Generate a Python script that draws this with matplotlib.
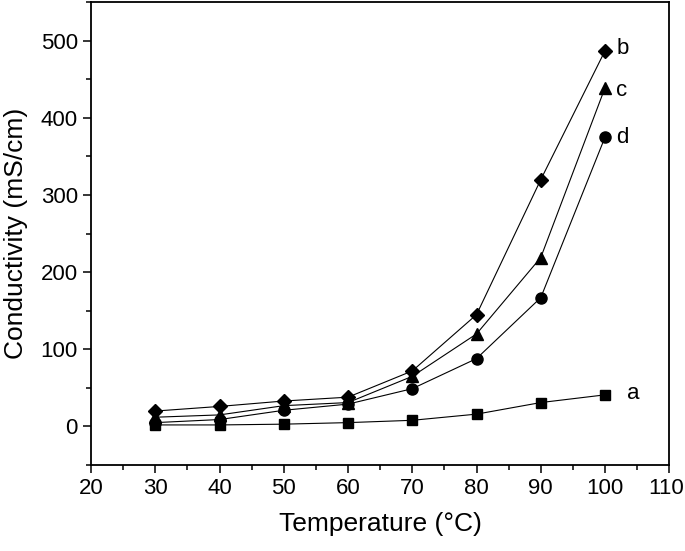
import matplotlib
matplotlib.use("Agg")
import matplotlib.pyplot as plt
import matplotlib.transforms as mtransforms
from matplotlib.ticker import MultipleLocator

plt.rcParams["font.family"] = ["Liberation Sans", "DejaVu Sans"]

temperature = [30, 40, 50, 60, 70, 80, 90, 100]
cond_a = [2, 2, 3, 5, 8, 16, 31, 41]
cond_b = [20, 26, 33, 38, 72, 145, 320, 487]
cond_c = [12, 15, 27, 31, 65, 120, 219, 439]
cond_d = [5, 9, 21, 29, 49, 88, 167, 375]

series = [
    ("a", cond_a, "s", 7),
    ("b", cond_b, "D", 7.5),
    ("c", cond_c, "^", 8),
    ("d", cond_d, "o", 8),
]
# label offsets in points from the last point of each curve
label_offsets = {"a": (16, 1), "b": (8, 2), "c": (8, -2), "d": (8, 0)}

fig = plt.figure(figsize=(6.85, 5.51), dpi=100)
ax = fig.add_axes([0.133, 0.156, 0.844, 0.840])

for name, vals, mk, ms in series:
    ax.plot(temperature, vals, color="black", lw=0.8, marker=mk, ms=ms,
            mfc="black", mec="black")
    ax.annotate(name, (temperature[-1], vals[-1]), xytext=label_offsets[name],
                textcoords="offset points", ha="left", va="center", fontsize=16)

ax.set_xlim(20, 110)
ax.set_ylim(-50, 550)
ax.xaxis.set_major_locator(MultipleLocator(10))
ax.xaxis.set_minor_locator(MultipleLocator(5))
ax.yaxis.set_major_locator(MultipleLocator(100))
ax.yaxis.set_minor_locator(MultipleLocator(50))
ax.tick_params(which="both", direction="out", top=False, right=False, labelsize=16)
ax.tick_params(which="major", length=6, width=1.1)
ax.tick_params(which="minor", length=3.5, width=1.1)
for s in ax.spines.values():
    s.set_linewidth(1.3)

ax.set_xlabel("Temperature (\u00b0C)", fontsize=19, labelpad=9)
ax.set_ylabel("Conductivity (mS/cm)", fontsize=19, labelpad=9)

# nudge the "110" label left a few pixels so it stays inside the figure
fig.canvas.draw()
last = [t for t in ax.xaxis.get_major_ticks() if t.label1.get_text() == "110"]
for t in last:
    shift = mtransforms.ScaledTranslation(-3 / 100, 0, fig.dpi_scale_trans)
    t.label1.set_transform(t.label1.get_transform() + shift)

fig.savefig("out.png", dpi=100)
